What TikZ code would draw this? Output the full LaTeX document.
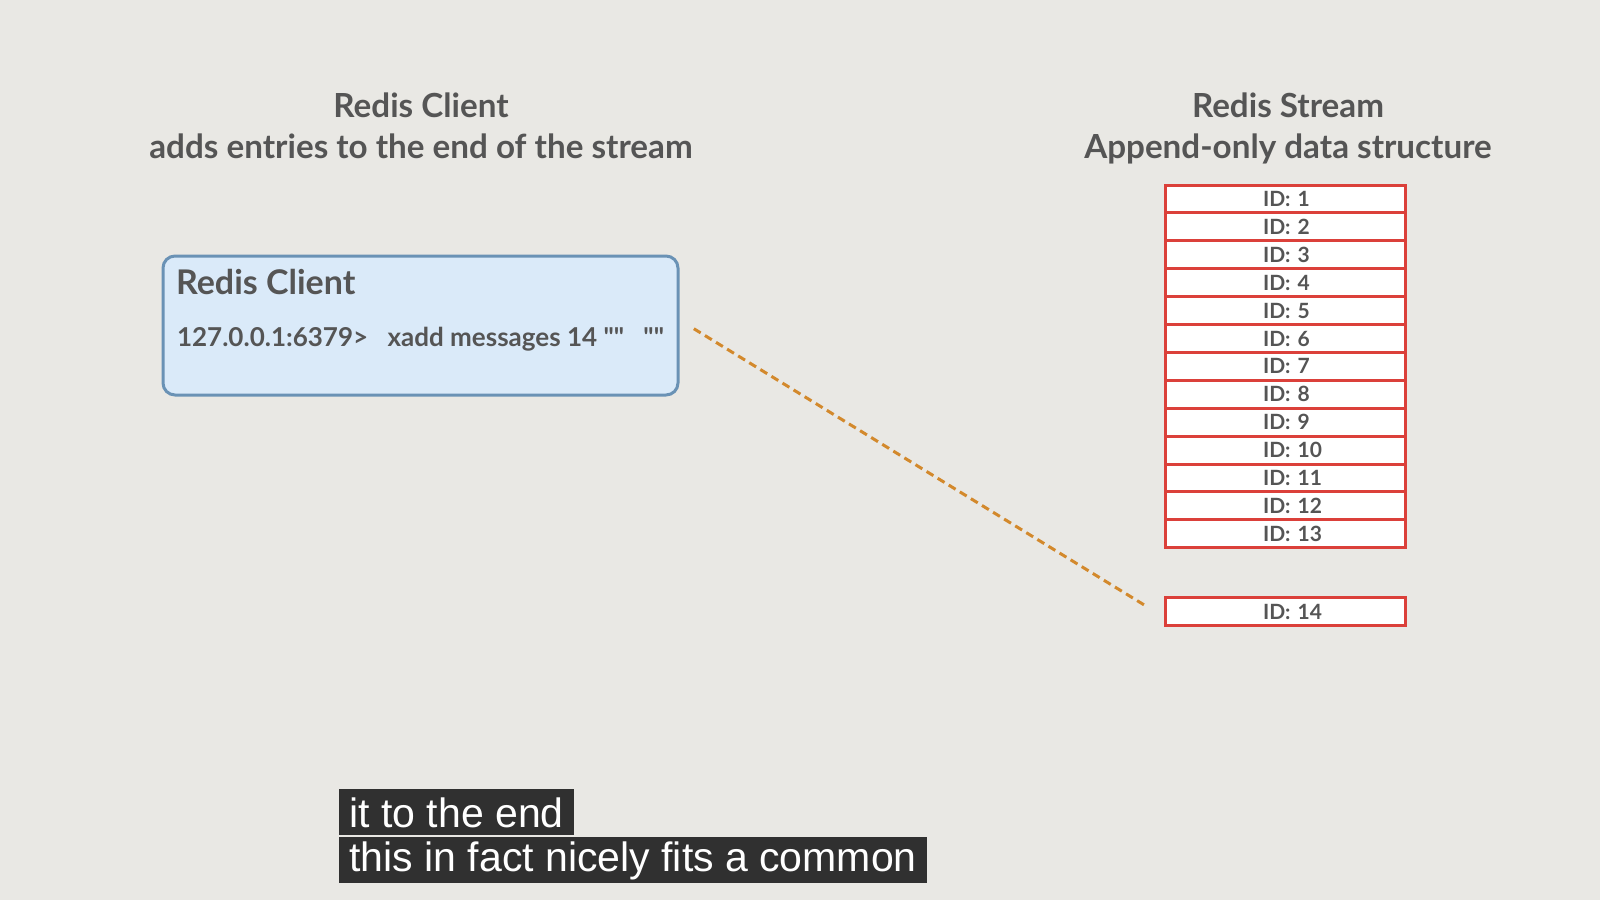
\documentclass[tikz,border=0pt]{standalone}
\usepackage{fontspec}
\setmainfont{Lato}
\newfontfamily\capfont{Liberation Sans}
\usetikzlibrary{positioning}

\definecolor{paper}{HTML}{E9E8E4}
\definecolor{inkgray}{HTML}{555555}
\definecolor{clientfill}{HTML}{DAEAF9}
\definecolor{clientline}{HTML}{6A92B5}
\definecolor{streamred}{HTML}{DB403A}
\definecolor{linkorange}{HTML}{D3892C}
\definecolor{capbg}{HTML}{303030}

\newcommand\dq{\textquotedbl\textquotedbl}

\tikzset{
  heading/.style={align=center, text=inkgray, font=\fontsize{16.6}{20.5}\selectfont\bfseries},
  clientbox/.style={draw=clientline, fill=clientfill, line width=1.5pt, rounded corners=6pt,
    minimum width=257.5pt, minimum height=69.5pt, inner sep=0pt, outer sep=0pt},
  entry/.style={draw=streamred, fill=white, line width=1.5pt, text width=120pt, align=left,
    minimum height=13.95pt, inner sep=0pt, outer sep=0pt, text=inkgray,
    font=\fontsize{10.5}{12}\selectfont\bfseries},
  capline/.style={fill=capbg, text=white, anchor=north west, inner xsep=5pt, inner ysep=0pt,
    minimum height=23pt, font=\capfont\fontsize{20.5}{24}\selectfont}
}

\begin{document}
\begin{tikzpicture}[x=0.5pt, y=-0.5pt]
\fill[paper] (0,0) rectangle (1600,900);

% headings
\node[heading] (lefthead) at (421,125.5) {Redis Client\\adds entries to the end of the stream};
\node[heading] (righthead) at (1288,128.5) {Redis Stream\\Append-only data structure};

% client
\node[clientbox] (client) at (420.5,325.5) {};
\node[anchor=west, text=inkgray, font=\fontsize{17}{20}\selectfont\bfseries]
  (clientname) at ([shift={(3pt,-13pt)}]client.north west) {Redis Client};
\node[anchor=west, text=inkgray, font=\fontsize{13}{15}\selectfont\bfseries]
  (command) at ([shift={(3.5pt,-41.5pt)}]client.north west) {127.0.0.1:6379>\enspace\ xadd messages 14 \dq\enspace\ \dq};

% stream
\node[entry] (e1) at (1285,199) {\hspace*{49pt}ID: 1};
\foreach \i [count=\j] in {2,...,13}
  \node[entry, below=0pt of e\j] (e\i) {\hspace*{49pt}ID: \i};
\node[entry, below=25pt of e13] (e14) {\hspace*{49pt}ID: 14};

\draw[linkorange, line width=1.5pt, dash pattern=on 4pt off 2.5pt, shorten <=9.3pt, shorten >=11.7pt]
  ([yshift=3.25pt]client.east) -- ([yshift=-3pt]e14.west);

% captions
\node[capline] (cap1) at (339,789) {it to the end};
\node[capline] (cap2) at (339,837) {this in fact nicely fits a common};
\end{tikzpicture}
\end{document}
